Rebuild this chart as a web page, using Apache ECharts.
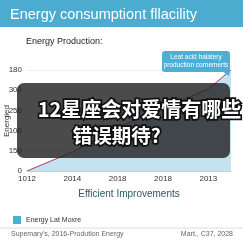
<!DOCTYPE html>
<html><head><meta charset="utf-8">
<script src="https://cdn.jsdelivr.net/npm/echarts@6/dist/echarts.min.js"></script>
<style>html,body{margin:0;padding:0;background:#fff}#c{width:243px;height:243px}</style>
</head><body><div id="c"></div>
<script>
const titleText = 'Energy consumptiont fllacility';
const subTitle = 'Energy Production:';
const seriesName = 'Energy Lat Moxre';
const yAxisName = 'Energied';
const xTickLabels = ['1012','2014','2018','2018','2013'];
const yTickLabels = ['0','150','100','250','300','180'];
const xValues = [0, 1, 2.13, 4, 4.5];
const yValues = [0, 47, 114, 203, 250];
const calloutLines = ['Leat acid balatery', 'production cornemerts'];
const footerLeft = "Supemary's, 2016-Prodution Energy";
const footerRight = 'Mart., C37, 2028';
const overlayLines = ['12星座会对爱情有哪些', '错误期待?'];

const chart = echarts.init(document.getElementById('c'));
const F = '"Liberation Sans", Arial, sans-serif';
chart.setOption({
  animation: false,
  grid: {left: 27, right: 12, top: 70, bottom: 72, containLabel: false, outerBoundsMode: 'none'},
  legend: {left: 8, top: 211, itemWidth: 8, itemHeight: 8, itemGap: 4, icon: 'rect',
    textStyle: {fontSize: 7, color: '#333', fontFamily: F}, data: [seriesName]},
  xAxis: {type: 'value', min: 0, max: 4.5, interval: 1,
    name: 'Efficient Improvements', nameLocation: 'middle', nameGap: 18,
    nameTextStyle: {fontSize: 10, color: '#2d5b5e', fontFamily: F},
    axisLine: {show: true, lineStyle: {color: '#ccc'}}, axisTick: {show: false},
    splitLine: {show: false},
    axisLabel: {fontSize: 8, color: '#333', fontFamily: F, margin: 4, showMaxLabel: false,
      formatter: v => xTickLabels[Math.round(v)] || ''}},
  yAxis: {type: 'value', min: 0, max: 250, interval: 50,
    axisLine: {show: false}, axisTick: {show: false},
    splitLine: {lineStyle: {color: '#eee'}},
    axisLabel: {fontSize: 8, color: '#333', fontFamily: F, margin: 5,
      formatter: v => yTickLabels[Math.round(v / 50)]}},
  series: [{name: seriesName, type: 'line', showSymbol: false,
    data: xValues.map((x, i) => [x, yValues[i]]),
    itemStyle: {color: '#4bb0d4'},
    lineStyle: {color: '#b5375a', width: 1},
    areaStyle: {color: '#c3e3f1', opacity: 1}}],
  graphic: [
    {type: 'rect', left: 0, top: 0, shape: {width: 243, height: 27}, style: {fill: '#4bacd0'}},
    {type: 'text', left: 10, top: 7, style: {text: titleText, fill: '#fff', font: '14.5px ' + F}},
    {type: 'text', left: 26, top: 37, style: {text: subTitle, fill: '#222', font: '9px ' + F}},
    {type: 'text', x: 7, y: 121, rotation: Math.PI / 2, style: {text: yAxisName, fill: '#333', font: '8px ' + F, align: 'center', verticalAlign: 'middle'}},
    {type: 'rect', left: 162, top: 51, shape: {width: 68, height: 21, r: 3}, style: {fill: '#4bb0d4'}, z: 10},
    {type: 'polygon', shape: {points: [[222, 71], [230, 71], [229, 76]]}, style: {fill: '#4bb0d4'}, z: 10},
    {type: 'text', x: 196, y: 57, style: {text: calloutLines[0], fill: '#fff', font: '6.5px ' + F, align: 'center', verticalAlign: 'middle'}, z: 11},
    {type: 'text', x: 196, y: 65, style: {text: calloutLines[1], fill: '#fff', font: '6.5px ' + F, align: 'center', verticalAlign: 'middle'}, z: 11},
    {type: 'line', shape: {x1: 0, y1: 228, x2: 243, y2: 228}, style: {stroke: '#ddd', lineWidth: 1}},
    {type: 'text', left: 11, top: 231, style: {text: footerLeft, fill: '#666', font: '7px ' + F}},
    {type: 'text', right: 10, top: 231, style: {text: footerRight, fill: '#666', font: '7px ' + F}},
    {type: 'rect', left: 17, top: 83, shape: {width: 213, height: 75, r: 7}, style: {fill: 'rgba(35,35,35,0.82)'}, z: 50},
    {type: 'text', left: 36, top: 98, style: {text: overlayLines[0], fill: '#fff', stroke: '#111', lineWidth: 3.5,
      font: 'bold 20px "Noto Sans CJK SC", sans-serif'}, z: 51},
    {type: 'text', left: 71, top: 124, style: {text: overlayLines[1], fill: '#fff', stroke: '#111', lineWidth: 3.5,
      font: 'bold 19.5px "Noto Sans CJK SC", sans-serif'}, z: 51}
  ]
});
</script></body></html>
